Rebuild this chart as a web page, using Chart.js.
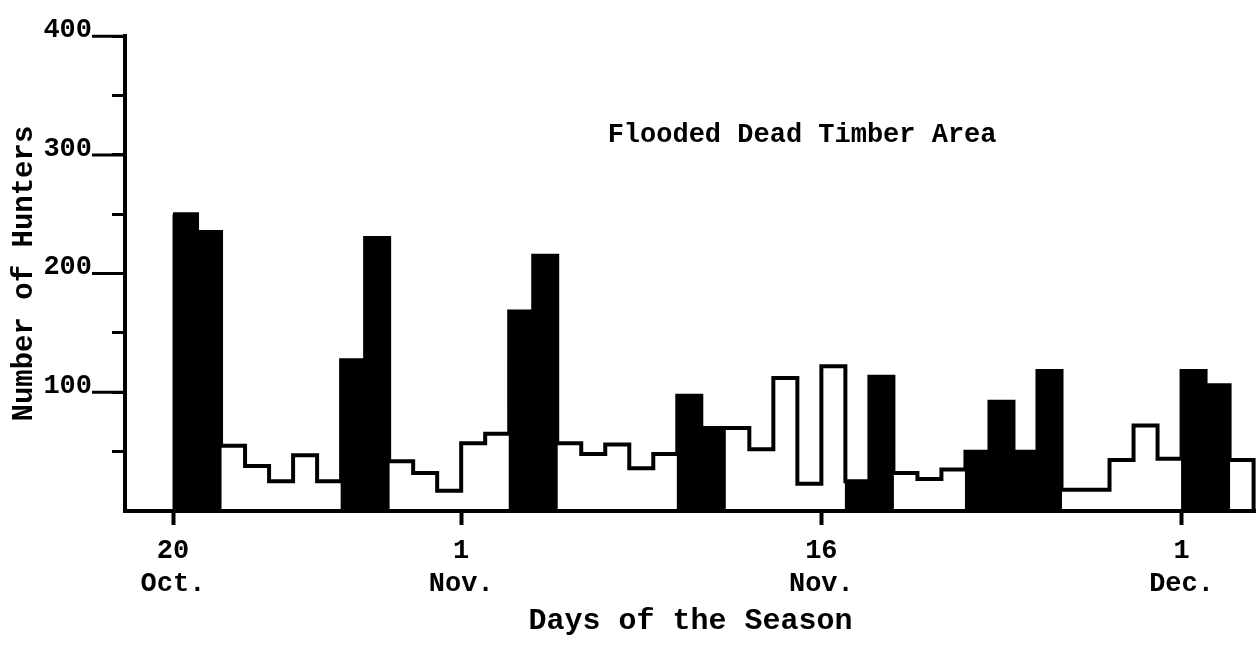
<!DOCTYPE html>
<html>
<head>
<meta charset="utf-8">
<script src="https://cdn.jsdelivr.net/npm/chart.js@4/dist/chart.umd.min.js"></script>
<style>
  html, body { margin: 0; padding: 0; background: #fff; }
  #wrap { width: 1256px; height: 662px; position: relative; }
</style>
</head>
<body>
<div id="wrap"><canvas id="huntersChart"></canvas></div>
<script>
"use strict";

// one value per day, 20 Oct. .. 3 Dec.
const hunters = [
    250, 235, 55, 38, 25, 47, 25, 127, 230, 42, 32, 17,          // Oct 20-31
    57, 65, 168, 215, 57, 48, 56, 36, 48, 97, 70, 70, 52, 112, 23,  // Nov 1-15
    122, 25, 113, 32, 27, 35, 50, 92, 50, 118, 18, 18, 43, 72, 44,  // Nov 16-30
    118, 106, 43                                                 // Dec 1-3
];
// 1 = weekend / holiday (shaded bar)
const shaded = [
    1, 1, 0, 0, 0, 0, 0, 1, 1, 0, 0, 0,
    0, 0, 1, 1, 0, 0, 0, 0, 0, 1, 1, 0, 0, 0, 0,
    0, 1, 1, 0, 0, 0, 1, 1, 1, 1, 0, 0, 0, 0, 0,
    1, 1, 0
];
const tickDays = [0, 12, 27, 42];
const tickLabels = [["20", "Oct."], ["1", "Nov."], ["16", "Nov."], ["1", "Dec."]];
const noteText = "Flooded Dead Timber Area";
const noteAt = { day: 18.1, value: 317 };

const FONT = "'Liberation Mono', 'Courier New', monospace";
const INK = "#000";

// shaded days as bars centred in their day
const barPoints = [];
hunters.forEach(function(v, i) {
    if (shaded[i]) barPoints.push({ x: i + 0.5, y: v });
});

// step outline over every day, closed down to zero after the last one
const stepPoints = hunters.map(function(v, i) { return { x: i, y: v }; });
stepPoints.push({ x: hunters.length, y: hunters[hunters.length - 1] });
stepPoints.push({ x: hunters.length, y: 0 });

const extraTicks = {
    id: "extraTicks",
    afterDraw: function(chart) {
        const ctx = chart.ctx;
        const y = chart.scales.y;
        const x = chart.scales.x;
        ctx.save();
        // longer marks for labelled values
        ctx.strokeStyle = INK;
        ctx.lineWidth = 3;
        [100, 200, 300, 400].forEach(function(v) {
            const py = y.getPixelForValue(v);
            ctx.beginPath();
            ctx.moveTo(y.right - 33, py);
            ctx.lineTo(y.right, py);
            ctx.stroke();
        });
        // caption inside the plot
        ctx.fillStyle = INK;
        ctx.font = "bold 27px " + FONT;
        ctx.textBaseline = "middle";
        ctx.textAlign = "left";
        ctx.fillText(noteText, x.getPixelForValue(noteAt.day), y.getPixelForValue(noteAt.value));
        ctx.restore();
    }
};

new Chart(document.getElementById("huntersChart"), {
    data: {
        datasets: [
            {
                type: "line",
                data: stepPoints,
                stepped: "before",
                borderColor: INK,
                borderWidth: 4,
                pointRadius: 0,
                fill: false,
                order: 1
            },
            {
                type: "bar",
                data: barPoints,
                backgroundColor: INK,
                borderWidth: 0,
                barPercentage: 1.04,
                categoryPercentage: 1,
                order: 2
            }
        ]
    },
    options: {
        responsive: true,
        maintainAspectRatio: false,
        animation: false,
        layout: { padding: { top: 30, right: 0, left: 0, bottom: 0 } },
        plugins: {
            legend: { display: false },
            tooltip: { enabled: false }
        },
        scales: {
            x: {
                type: "linear",
                offset: false,
                min: -2,
                max: 45.1,
                afterBuildTicks: function(scale) {
                    scale.ticks = tickDays.map(function(d) { return { value: d }; });
                },
                afterFit: function(scale) { scale.height = 151; },
                border: { display: true, color: INK, width: 4 },
                grid: {
                    offset: false,
                    drawOnChartArea: false,
                    drawTicks: true,
                    tickLength: 14,
                    tickWidth: 4,
                    tickColor: INK
                },
                ticks: {
                    autoSkip: false,
                    maxRotation: 0,
                    padding: 9,
                    color: INK,
                    font: { family: FONT, size: 27, weight: "bold", lineHeight: 1.25 },
                    callback: function(value) {
                        return tickLabels[tickDays.indexOf(value)];
                    }
                },
                title: {
                    display: true,
                    text: "Days of the Season",
                    color: INK,
                    font: { family: FONT, size: 30, weight: "bold", lineHeight: 1.1 },
                    padding: { top: 0, bottom: 24 }
                }
            },
            y: {
                min: 0,
                max: 400,
                afterFit: function(scale) { scale.width = 125; },
                border: { display: true, color: INK, width: 4 },
                grid: {
                    drawOnChartArea: false,
                    drawTicks: true,
                    tickLength: 13,
                    tickWidth: 3,
                    tickColor: function(c) { return c.tick && c.tick.value === 0 ? "rgba(0,0,0,0)" : INK; }
                },
                ticks: {
                    stepSize: 50,
                    padding: 20,
                    labelOffset: -6,
                    color: INK,
                    font: { family: FONT, size: 27, weight: "bold" },
                    callback: function(value) {
                        return value > 0 && value % 100 === 0 ? String(value) : "";
                    }
                },
                title: {
                    display: true,
                    text: "Number of Hunters",
                    color: INK,
                    font: { family: FONT, size: 29, weight: "bold", lineHeight: 1.1 },
                    padding: { top: 9, bottom: 0 }
                }
            }
        }
    },
    plugins: [extraTicks]
});
</script>
</body>
</html>
